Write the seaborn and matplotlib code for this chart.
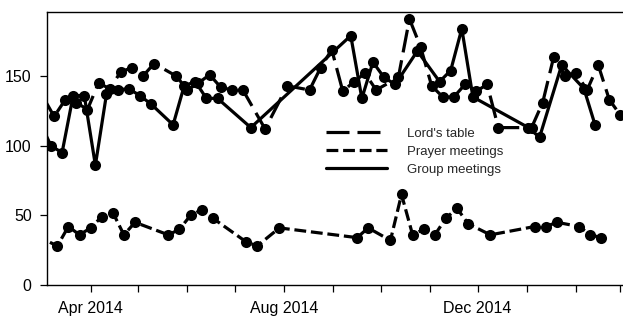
import matplotlib
matplotlib.use("Agg")
import matplotlib.pyplot as plt
import matplotlib.dates as mdates
from matplotlib.lines import Line2D
import pandas as pd
import seaborn as sns

# Lord's table (Sundays)
lord_dates = ["2014-03-01", "2014-03-09", "2014-03-16", "2014-03-23", "2014-03-30", "2014-04-06",
              "2014-04-13", "2014-04-20", "2014-04-27", "2014-05-04", "2014-05-11", "2014-05-25",
              "2014-06-01", "2014-06-08", "2014-06-15", "2014-06-22", "2014-06-29", "2014-07-06",
              "2014-07-20", "2014-08-03", "2014-08-17", "2014-08-24", "2014-08-31", "2014-09-07",
              "2014-09-14", "2014-09-21", "2014-09-28", "2014-10-12", "2014-10-19", "2014-10-26",
              "2014-11-02", "2014-11-09", "2014-11-16", "2014-11-23", "2014-11-30", "2014-12-07",
              "2014-12-14", "2015-01-04", "2015-01-11", "2015-01-18", "2015-01-25", "2015-02-01",
              "2015-02-08", "2015-02-15", "2015-02-22", "2015-03-01"]
lord_vals = [137, 121, 133, 131, 126, 145, 141, 153, 156, 150,
             159, 150, 140, 145, 151, 142, 140, 140, 112, 143,
             140, 156, 169, 139, 146, 152, 140, 149, 191, 171,
             143, 135, 135, 144, 139, 144, 113, 113, 131, 164,
             150, 152, 140, 158, 133, 122]

# Prayer meetings (Tuesdays)
prayer_dates = ["2014-02-25", "2014-03-11", "2014-03-18", "2014-03-25", "2014-04-01", "2014-04-08",
                "2014-04-15", "2014-04-22", "2014-04-29", "2014-05-20", "2014-05-27", "2014-06-03",
                "2014-06-10", "2014-06-17", "2014-07-08", "2014-07-15", "2014-07-29", "2014-09-16",
                "2014-09-23", "2014-10-07", "2014-10-14", "2014-10-21", "2014-10-28", "2014-11-04",
                "2014-11-11", "2014-11-18", "2014-11-25", "2014-12-09", "2015-01-06", "2015-01-13",
                "2015-01-20", "2015-02-03", "2015-02-10", "2015-02-17"]
prayer_vals = [36, 28, 42, 36, 41, 49, 52, 36, 45, 36,
               40, 50, 54, 48, 31, 28, 41, 34, 41, 32,
               65, 36, 40, 36, 48, 55, 44, 36, 42, 42,
               45, 42, 36, 34]

# Group meetings (Fridays)
group_dates = ["2014-02-28", "2014-03-07", "2014-03-14", "2014-03-21", "2014-03-28", "2014-04-04",
               "2014-04-11", "2014-04-18", "2014-04-25", "2014-05-02", "2014-05-09", "2014-05-23",
               "2014-05-30", "2014-06-06", "2014-06-13", "2014-06-20", "2014-07-11", "2014-09-12",
               "2014-09-19", "2014-09-26", "2014-10-03", "2014-10-10", "2014-10-24", "2014-11-07",
               "2014-11-14", "2014-11-21", "2014-11-28", "2015-01-02", "2015-01-09", "2015-01-23",
               "2015-02-06", "2015-02-13"]
group_vals = [117, 100, 95, 136, 136, 86, 137, 140, 141, 136,
              130, 115, 143, 146, 134, 134, 113, 179, 134, 160,
              149, 144, 168, 146, 154, 184, 135, 113, 106, 158,
              141, 115]

series = ["Lord's table", "Prayer meetings", "Group meetings"]
LW = 2.3
dash_styles = {"Lord's table": (7.2, 2.5), "Prayer meetings": (3.7, 1.5), "Group meetings": ""}

df = pd.concat([
    pd.DataFrame({"date": pd.to_datetime(lord_dates), "count": lord_vals, "type": series[0]}),
    pd.DataFrame({"date": pd.to_datetime(prayer_dates), "count": prayer_vals, "type": series[1]}),
    pd.DataFrame({"date": pd.to_datetime(group_dates), "count": group_vals, "type": series[2]}),
], ignore_index=True)

sns.set_style("ticks")
plt.rcParams["font.family"] = ["Liberation Sans", "DejaVu Sans"]

fig = plt.figure(figsize=(6.23, 3.16), dpi=100)
ax = fig.add_axes([47 / 623, 31 / 316, 575 / 623, 273 / 316])

sns.lineplot(
    data=df, x="date", y="count", hue="type", style="type",
    palette={s: "black" for s in series},
    dashes=dash_styles,
    markers={s: "o" for s in series},
    markersize=8, markeredgecolor="black", markeredgewidth=0,
    linewidth=LW, estimator=None, legend=False, ax=ax,
)

ax.set_xlim(pd.Timestamp("2014-03-04 12:00"), pd.Timestamp("2015-03-02"))
ax.set_ylim(0, 196)
ax.set_yticks([0, 50, 100, 150])
ax.xaxis.set_major_locator(mdates.MonthLocator(bymonth=[4, 8, 12]))
ax.xaxis.set_minor_locator(mdates.MonthLocator())
ax.xaxis.set_major_formatter(mdates.DateFormatter("%b %Y"))
ax.tick_params(axis="both", which="both", direction="out", length=5, width=0.9,
               color="black", labelsize=11.5, labelcolor="black")
ax.tick_params(axis="x", pad=6.5)
ax.tick_params(axis="y", pad=6)
ax.set_xlabel("")
ax.set_ylabel("")
ax.spines["right"].set_visible(False)
for side in ["left", "bottom", "top"]:
    ax.spines[side].set_color("black")
    ax.spines[side].set_linewidth(1.0)

handles = []
for s in series:
    h = Line2D([0], [0], color="black", linewidth=LW)
    if dash_styles[s]:
        h.set_dashes(dash_styles[s])
    handles.append(h)
ax.legend(handles, series, loc="upper left", bbox_to_anchor=(0.486, 0.577),
          frameon=False, fontsize=9.5, handlelength=4.6, handletextpad=1.5,
          labelspacing=0.45, borderpad=0, borderaxespad=0)

fig.savefig("out.png", dpi=100)
